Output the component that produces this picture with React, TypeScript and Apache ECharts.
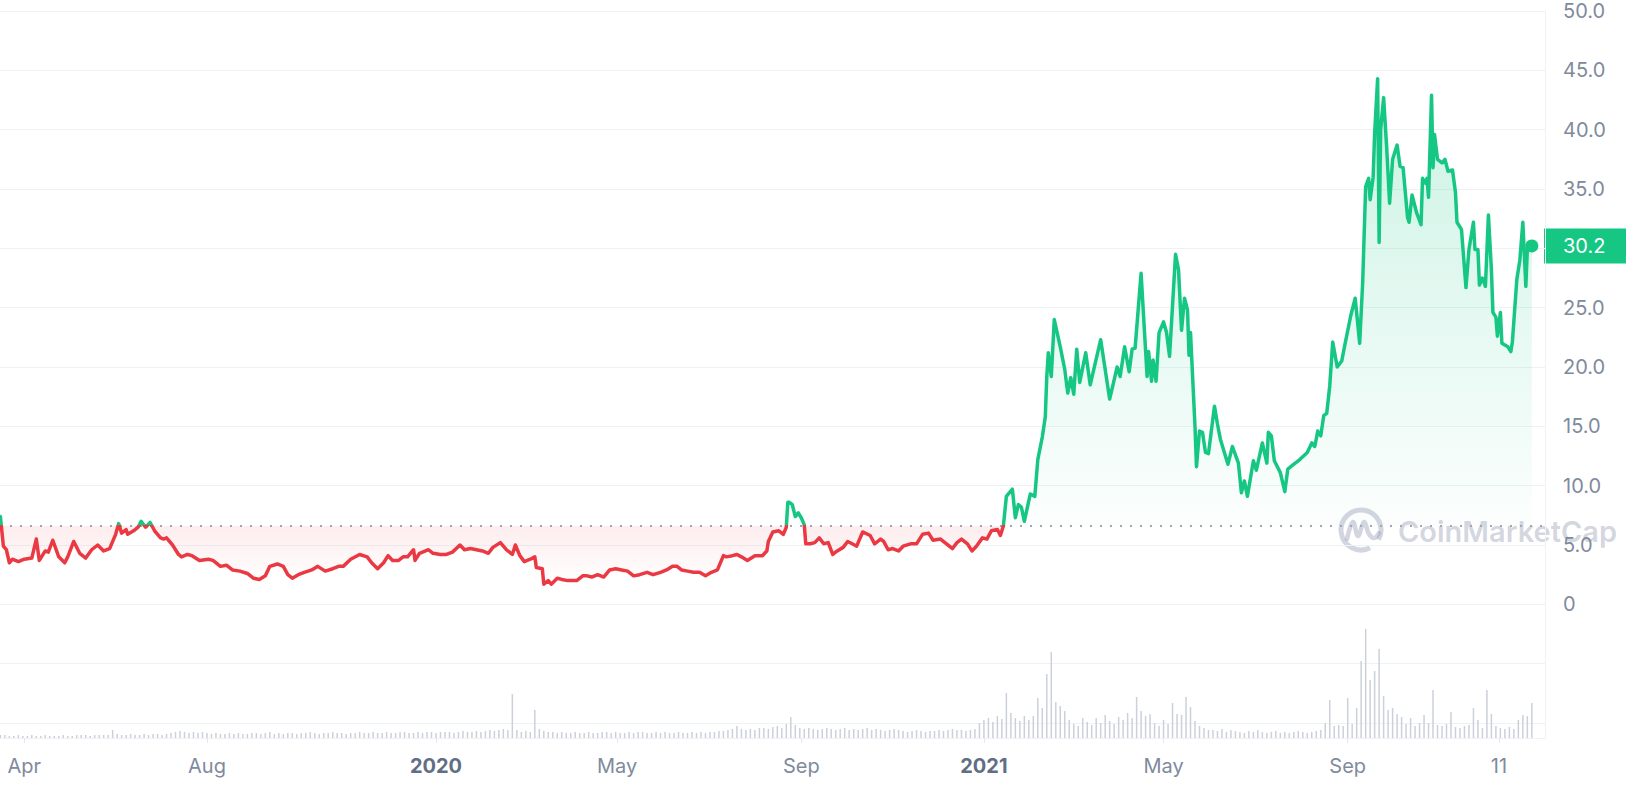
import React, { useEffect, useRef } from 'react';
import * as echarts from 'echarts';

const GREEN = '#16c784';
const RED = '#ea3943';
const BASE_PRICE = 6.65;
const LAST_PRICE_LABEL = '30.2';

const priceDates = [
  '2019-03-16','2019-03-18','2019-03-20','2019-03-22','2019-03-24','2019-03-28','2019-04-01','2019-04-06','2019-04-09','2019-04-11',
  '2019-04-15','2019-04-17','2019-04-20','2019-04-24','2019-04-28','2019-04-30','2019-05-04','2019-05-08','2019-05-12','2019-05-16',
  '2019-05-20','2019-05-24','2019-05-28','2019-06-01','2019-06-03','2019-06-05','2019-06-08','2019-06-09','2019-06-13','2019-06-16',
  '2019-06-18','2019-06-21','2019-06-24','2019-06-27','2019-07-01','2019-07-03','2019-07-05','2019-07-09','2019-07-13','2019-07-15',
  '2019-07-19','2019-07-22','2019-07-27','2019-08-02','2019-08-05','2019-08-10','2019-08-14','2019-08-18','2019-08-23','2019-08-28',
  '2019-09-01','2019-09-05','2019-09-09','2019-09-12','2019-09-17','2019-09-21','2019-09-24','2019-09-27','2019-10-01','2019-10-05',
  '2019-10-10','2019-10-14','2019-10-19','2019-10-24','2019-10-28','2019-10-31','2019-11-05','2019-11-11','2019-11-16','2019-11-19',
  '2019-11-23','2019-11-27','2019-11-30','2019-12-03','2019-12-07','2019-12-10','2019-12-13','2019-12-17','2019-12-18','2019-12-21',
  '2019-12-27','2019-12-30','2020-01-04','2020-01-08','2020-01-12','2020-01-17','2020-01-20','2020-01-24','2020-01-28','2020-02-01',
  '2020-02-05','2020-02-08','2020-02-13','2020-02-17','2020-02-21','2020-02-23','2020-02-26','2020-02-29','2020-03-04','2020-03-07',
  '2020-03-08','2020-03-12','2020-03-13','2020-03-16','2020-03-18','2020-03-22','2020-03-25','2020-03-29','2020-04-04','2020-04-08',
  '2020-04-11','2020-04-14','2020-04-18','2020-04-22','2020-04-26','2020-04-30','2020-05-04','2020-05-08','2020-05-12','2020-05-16',
  '2020-05-21','2020-05-25','2020-05-30','2020-06-03','2020-06-07','2020-06-10','2020-06-13','2020-06-17','2020-06-21','2020-06-25',
  '2020-06-29','2020-07-03','2020-07-07','2020-07-11','2020-07-13','2020-07-17','2020-07-20','2020-07-23','2020-07-27','2020-08-01',
  '2020-08-06','2020-08-09','2020-08-10','2020-08-13','2020-08-17','2020-08-20','2020-08-22','2020-08-23','2020-08-24','2020-08-26',
  '2020-08-28','2020-08-30','2020-09-01','2020-09-03','2020-09-04','2020-09-07','2020-09-10','2020-09-13','2020-09-16','2020-09-19',
  '2020-09-22','2020-09-25','2020-09-29','2020-10-02','2020-10-05','2020-10-08','2020-10-12','2020-10-17','2020-10-20','2020-10-24',
  '2020-10-26','2020-10-29','2020-11-01','2020-11-05','2020-11-08','2020-11-13','2020-11-17','2020-11-21','2020-11-25','2020-11-28',
  '2020-12-03','2020-12-07','2020-12-11','2020-12-14','2020-12-17','2020-12-21','2020-12-24','2020-12-27','2020-12-31','2021-01-03',
  '2021-01-06','2021-01-10','2021-01-12','2021-01-14','2021-01-16','2021-01-20','2021-01-22','2021-01-24','2021-01-26','2021-01-28',
  '2021-02-01','2021-02-04','2021-02-06','2021-02-09','2021-02-11','2021-02-12','2021-02-13','2021-02-15','2021-02-17','2021-02-21',
  '2021-02-24','2021-02-26','2021-02-28','2021-03-02','2021-03-04','2021-03-06','2021-03-10','2021-03-13','2021-03-20','2021-03-26',
  '2021-03-31','2021-04-02','2021-04-05','2021-04-08','2021-04-10','2021-04-12','2021-04-16','2021-04-20','2021-04-21','2021-04-23',
  '2021-04-24','2021-04-26','2021-04-28','2021-05-01','2021-05-03','2021-05-05','2021-05-09','2021-05-11','2021-05-13','2021-05-15',
  '2021-05-17','2021-05-18','2021-05-19','2021-05-22','2021-05-23','2021-05-25','2021-05-27','2021-05-29','2021-05-31','2021-06-04',
  '2021-06-06','2021-06-08','2021-06-13','2021-06-16','2021-06-20','2021-06-22','2021-06-24','2021-06-26','2021-06-30','2021-07-02',
  '2021-07-06','2021-07-09','2021-07-10','2021-07-12','2021-07-14','2021-07-18','2021-07-21','2021-07-23','2021-07-26','2021-07-31',
  '2021-08-05','2021-08-08','2021-08-10','2021-08-12','2021-08-14','2021-08-16','2021-08-18','2021-08-20','2021-08-22','2021-08-25',
  '2021-08-28','2021-08-30','2021-09-03','2021-09-06','2021-09-09','2021-09-11','2021-09-13','2021-09-15','2021-09-16','2021-09-18',
  '2021-09-19','2021-09-21','2021-09-22','2021-09-23','2021-09-25','2021-09-27','2021-09-29','2021-10-01','2021-10-04','2021-10-06',
  '2021-10-08','2021-10-11','2021-10-12','2021-10-14','2021-10-17','2021-10-20','2021-10-21','2021-10-23','2021-10-24','2021-10-25',
  '2021-10-27','2021-10-28','2021-10-29','2021-10-31','2021-11-03','2021-11-05','2021-11-07','2021-11-10','2021-11-12','2021-11-13',
  '2021-11-16','2021-11-19','2021-11-21','2021-11-24','2021-11-25','2021-11-27','2021-11-28','2021-11-30','2021-12-02','2021-12-04',
  '2021-12-06','2021-12-07','2021-12-09','2021-12-10','2021-12-12','2021-12-13','2021-12-17','2021-12-19','2021-12-20','2021-12-23',
  '2021-12-25','2021-12-27','2021-12-29','2021-12-30','2022-01-02'
];

const priceValues = [
  7.4, 4.9, 4.6, 3.5, 3.8, 3.6, 3.8, 3.9, 5.5, 3.7,
  4.5, 4.4, 5.4, 4.0, 3.5, 4.0, 5.3, 4.3, 3.9, 4.6,
  5.0, 4.5, 4.7, 5.9, 6.8, 6.0, 6.3, 5.9, 6.2, 6.5,
  7.0, 6.5, 6.9, 6.2, 5.6, 5.5, 5.6, 5.0, 4.2, 4.0,
  4.2, 4.1, 3.7, 3.8, 3.7, 3.2, 3.3, 2.9, 2.8, 2.6,
  2.2, 2.1, 2.4, 3.2, 3.4, 3.2, 2.5, 2.2, 2.5, 2.7,
  2.9, 3.2, 2.8, 3.0, 3.2, 3.2, 3.8, 4.2, 4.0, 3.5,
  3.0, 3.5, 4.1, 3.7, 3.7, 4.0, 4.0, 4.6, 3.7, 4.3,
  4.6, 4.3, 4.2, 4.2, 4.4, 5.0, 4.6, 4.7, 4.6, 4.5,
  4.3, 4.8, 5.2, 4.6, 4.2, 5.0, 4.1, 3.6, 3.8, 4.0,
  3.1, 3.0, 1.7, 2.0, 1.7, 2.2, 2.1, 2.0, 2.0, 2.4,
  2.4, 2.3, 2.5, 2.3, 2.9, 3.0, 2.9, 2.8, 2.4, 2.5,
  2.7, 2.5, 2.7, 2.9, 3.2, 3.2, 2.9, 2.8, 2.7, 2.7,
  2.4, 2.7, 2.9, 4.1, 4.0, 4.1, 4.2, 4.0, 3.7, 4.1,
  4.1, 4.5, 5.3, 6.1, 6.2, 5.9, 6.5, 8.6, 8.6, 8.4,
  7.4, 7.7, 7.3, 6.7, 5.1, 5.1, 5.2, 5.6, 5.1, 5.2,
  4.2, 4.5, 4.8, 5.3, 5.1, 4.9, 6.1, 5.8, 5.1, 5.5,
  5.3, 4.6, 4.7, 4.5, 4.9, 5.1, 5.1, 5.9, 6.0, 5.4,
  5.5, 5.1, 4.7, 5.2, 5.5, 5.1, 4.5, 4.9, 5.6, 5.5,
  6.2, 6.3, 5.8, 6.6, 9.1, 9.7, 7.3, 8.4, 8.2, 7.0,
  9.3, 9.1, 12.2, 14.1, 15.8, 19.2, 21.2, 19.2, 24.0, 21.7,
  19.8, 17.8, 19.1, 17.7, 21.5, 18.7, 21.2, 18.5, 22.3, 17.3,
  20.0, 19.2, 21.7, 19.6, 21.5, 21.6, 27.9, 19.2, 21.3, 18.8,
  20.6, 18.8, 22.9, 23.8, 22.9, 20.9, 29.5, 28.2, 23.1, 25.8,
  24.8, 21.0, 22.9, 15.0, 11.6, 14.6, 14.5, 12.8, 12.7, 16.7,
  15.2, 13.9, 11.8, 13.3, 11.9, 9.4, 10.4, 9.1, 12.1, 11.3,
  13.6, 11.9, 14.5, 14.2, 12.1, 11.1, 9.5, 11.4, 11.7, 12.2,
  12.8, 13.6, 13.3, 14.6, 14.2, 15.9, 16.1, 18.4, 22.1, 20.0,
  20.5, 21.8, 24.3, 25.8, 22.0, 27.1, 35.2, 35.9, 34.1, 36.0,
  39.7, 44.3, 30.5, 40.0, 42.7, 38.6, 33.8, 37.5, 38.7, 36.9,
  36.8, 32.6, 32.2, 34.5, 33.0, 32.0, 35.9, 35.5, 35.9, 34.3,
  42.9, 36.8, 39.6, 37.5, 37.2, 37.5, 36.5, 36.6, 34.7, 32.2,
  31.6, 26.7, 29.9, 32.2, 29.9, 29.9, 26.9, 27.5, 26.8, 32.8,
  28.2, 24.6, 24.2, 22.6, 24.6, 22.0, 21.7, 21.3, 22.1, 27.4,
  29.0, 32.2, 26.8, 29.9, 30.2
];

// volume samples (USD millions), one every VOLUME_STEP_DAYS from VOLUME_START
const VOLUME_START = '2019-03-16';
const VOLUME_STEP_DAYS = 3;
const volumeValues = [
  90,90,60,60,90,60,60,90,60,60,90,60,60,60,90,60,60,90,
  90,90,60,90,90,90,90,240,
  120,90,90,120,90,90,120,90,120,120,90,120,
  150,180,210,180,150,180,150,180,150,
  120,150,120,120,150,120,150,120,120,150,
  150,120,150,180,120,150,120,150,150,120,
  150,150,180,150,120,150,150,180,150,150,
  120,150,150,180,150,150,180,150,150,180,
  150,150,180,180,150,150,180,150,180,180,
  150,180,180,
  180,150,180,210,180,180,210,180,210,240,210,240,270,
  240,1320,240,180,210,180,840,270,210,180,180,150,180,
  150,150,180,150,150,180,150,150,180,180,
  150,180,150,150,180,150,180,180,150,150,
  180,150,180,150,150,180,150,150,180,150,
  180,150,180,180,210,
  210,240,270,360,270,240,270,240,300,300,270,330,360,300,420,
  630,
  390,300,270,300,270,240,270,300,270,240,270,300,240,270,240,270,300,240,270,240,210,240,270,240,
  210,180,210,240,210,180,210,210,240,210,240,270,240,
  240,210,240,270,
  450,540,600,480,660,570,
  1350,
  750,600,510,660,540,660,1200,900,
  1920,2580,1080,960,810,
  540,420,360,600,480,390,
  600,450,690,510,420,630,540,750,
  600,1230,810,660,720,
  450,360,540,420,
  1050,720,690,1230,930,
  510,360,300,240,
  240,210,270,180,240,210,180,150,210,180,
  240,180,150,180,210,150,180,150,180,210,
  180,150,180,210,240,
  450,1140,360,390,360,1200,420,
  900,2310,3270,1740,2010,2670,1260,840,900,720,
  630,420,600,360,450,690,450,1440,390,360,
  420,780,330,300,360,390,900,540,300,1440,
  720,360,300,270,330,270,540,690,660,1050
];

const xTickDates = ['2019-04-01','2019-08-01','2020-01-01','2020-05-01','2020-09-01','2021-01-01','2021-05-01','2021-09-01','2021-12-11'];
const xTickLabels = ['Apr','Aug','2020','May','Sep','2021','May','Sep','11'];
const yearLabels = ['2020','2021'];

const DAY = 86400000;
const ts = (s: string) => {
  const [y, m, d] = s.split('-').map(Number);
  return Date.UTC(y, m - 1, d);
};

export default function App() {
  const ref = useRef<HTMLDivElement>(null);
  useEffect(() => {
    if (!ref.current) return;
    const chart = echarts.init(ref.current, undefined, { renderer: 'svg' });

    const priceData = priceDates.map((d, i) => [ts(d), priceValues[i]]);
    const vStart = ts(VOLUME_START);
    const volumeData = volumeValues.map((v, i) => [vStart + i * VOLUME_STEP_DAYS * DAY, v]);
    const tickTs = xTickDates.map(ts);
    const labelMap: Record<number, string> = {};
    tickTs.forEach((t, i) => (labelMap[t] = xTickLabels[i]));

    const maxP = Math.max(...priceValues);
    const minP = Math.min(...priceValues);
    const stop = (maxP - BASE_PRICE) / (maxP - minP);

    const xMin = ts('2019-03-15') + 0.75 * DAY;
    const xMax = ts('2022-01-10') + 0.8 * DAY;
    const lastIdx = priceDates.length - 1;
    const lastPrice = priceValues[lastIdx];

    const fontFamily = 'Inter, "Noto Sans", sans-serif';
    const gridColor = '#eff2f5';
    const wmColor = 'rgba(150,158,180,0.42)';

    const watermark = {
      id: 'watermark', type: 'group', z: 100, silent: true,
      children: [
        {
          type: 'arc',
          shape: { cx: 1361, cy: 530, r: 20, startAngle: 1.1, endAngle: 0.5 + Math.PI * 2, clockwise: true },
          style: { stroke: wmColor, lineWidth: 5, fill: 'none' },
        },
        {
          type: 'polyline',
          shape: {
            points: [[1347, 539], [1353, 522], [1358, 536], [1364, 522], [1369, 534], [1374, 538], [1379, 533]],
            smooth: 0.4,
          },
          style: { stroke: wmColor, lineWidth: 4.5, fill: 'none', lineCap: 'round', lineJoin: 'round' },
        },
        {
          type: 'text',
          x: 1398, y: 531,
          style: {
            text: 'CoinMarketCap', fontSize: 29, fontWeight: 600, fontFamily,
            fill: wmColor, verticalAlign: 'middle', align: 'left',
          },
        },
      ],
    };

    const option: any = {
      animation: false,
      grid: [
        { left: 0, right: 83, top: 11, bottom: 69 },
        { left: 0, right: 83, top: 628, bottom: 54 },
      ],
      xAxis: [
        {
          type: 'value', gridIndex: 0, min: xMin, max: xMax, show: false,
          splitLine: { show: false },
        },
        {
          type: 'value', gridIndex: 1, min: xMin, max: xMax,
          axisLine: { show: true, lineStyle: { color: gridColor, width: 1 } },
          axisTick: { show: true, customValues: tickTs, length: 5, lineStyle: { color: '#e3e7ee' } },
          splitLine: { show: false },
          axisLabel: {
            customValues: tickTs,
            margin: 18,
            fontSize: 20,
            fontFamily,
            color: '#808a9d',
            formatter: (v: number) => {
              const lab = labelMap[v] ?? '';
              return yearLabels.includes(lab) ? `{b|${lab}}` : lab;
            },
            rich: { b: { fontSize: 20, fontWeight: 'bold', color: '#616e85', fontFamily } },
          },
        },
      ],
      yAxis: [
        {
          type: 'value', gridIndex: 0, position: 'right', min: -10, max: 50, interval: 5,
          axisLine: { show: true, lineStyle: { color: gridColor } },
          axisTick: { show: false },
          splitLine: { show: true, lineStyle: { color: gridColor, width: 1 } },
          axisLabel: {
            margin: 18, fontSize: 20, fontFamily, color: '#808a9d',
            formatter: (v: number) =>
              v < 0 || Math.abs(v - lastPrice) < 2.5 ? '' : v === 0 ? '0' : v.toFixed(1),
          },
        },
        {
          type: 'value', gridIndex: 1, position: 'right', min: 0, max: 3300,
          axisLine: { show: true, lineStyle: { color: gridColor } },
          axisTick: { show: false }, axisLabel: { show: false }, splitLine: { show: false },
        },
      ],
      visualMap: {
        show: false, type: 'piecewise', seriesIndex: 0, dimension: 1,
        pieces: [
          { gte: -1000, lt: BASE_PRICE, color: RED },
          { gte: BASE_PRICE, lte: 1000, color: GREEN },
        ],
        outOfRange: { color: GREEN },
      },
      series: [
        {
          type: 'line', xAxisIndex: 0, yAxisIndex: 0, data: priceData,
          showSymbol: false, symbol: 'none', clip: false, z: 5,
          lineStyle: { width: 3.5, join: 'round', cap: 'round' },
          areaStyle: {
            origin: BASE_PRICE,
            color: new echarts.graphic.LinearGradient(0, 0, 0, 1, [
              { offset: 0, color: 'rgba(22,199,132,0.32)' },
              { offset: stop, color: 'rgba(22,199,132,0.02)' },
              { offset: Math.min(1, stop + 0.001), color: 'rgba(234,57,67,0.13)' },
              { offset: 1, color: 'rgba(234,57,67,0.0)' },
            ]),
          },
          markLine: {
            silent: true, symbol: ['none', 'none'], animation: false,
            data: [
              {
                yAxis: BASE_PRICE,
                lineStyle: { type: [2, 8], color: '#a1a7b7', width: 2 },
                label: { show: false },
              },
            ],
          },
          markPoint: {
            silent: true, animation: false,
            symbol: 'circle', symbolSize: 13,
            itemStyle: { color: GREEN },
            label: { show: false },
            data: [{ coord: priceData[lastIdx] }],
          },
        },
        {
          type: 'bar', xAxisIndex: 1, yAxisIndex: 1, data: volumeData,
          barWidth: 1.5, itemStyle: { color: '#cbd0da' }, z: 2,
        },
      ],
      graphic: [watermark],
    };

    chart.setOption(option);

    // current-price tag, placed on the price axis through the chart's own scale
    const pt = chart.convertToPixel({ gridIndex: 0 }, [xMax, lastPrice]) as number[];
    if (pt && isFinite(pt[0]) && isFinite(pt[1])) {
      const [px, py] = pt;
      chart.setOption({
        graphic: [
          watermark,
          {
            id: 'priceTag', type: 'group', z: 90, silent: true,
            children: [
              { type: 'rect', shape: { x: px - 1, y: py - 17.5, width: 82, height: 35 }, style: { fill: GREEN } },
              {
                type: 'text', x: px + 18, y: py + 0.5,
                style: { text: LAST_PRICE_LABEL, fill: '#ffffff', fontSize: 20, fontFamily, verticalAlign: 'middle', align: 'left' },
              },
            ],
          },
        ],
      });
    }

    return () => chart.dispose();
  }, []);

  return (
    <div
      ref={ref}
      style={{ position: 'fixed', left: 0, top: 0, width: '1628px', height: '792px', background: '#fff' }}
    />
  );
}
